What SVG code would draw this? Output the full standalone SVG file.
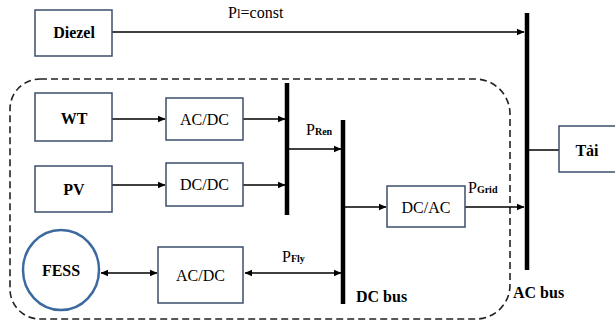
<svg xmlns="http://www.w3.org/2000/svg" width="615" height="330" viewBox="0 0 615 330" font-family="'Liberation Serif', 'DejaVu Serif', 'Times New Roman', serif">
<defs>
<marker id="ah" markerWidth="8" markerHeight="8" refX="7" refY="4" orient="auto-start-reverse" markerUnits="userSpaceOnUse">
<path d="M0,0.8 L7.5,4 L0,7.2 Z" fill="#000"/>
</marker>
<style>
.box{fill:#fff;stroke:#3b4f6b;stroke-width:1.5}
text{font-family:'Liberation Serif','DejaVu Serif','Times New Roman',serif}
.t{font-size:16px;fill:#000;text-anchor:middle}
.b{font-weight:bold}
.c{stroke:#000;stroke-width:1.5;fill:none}
.bus{stroke:#000;stroke-width:4.5}
.lbl{font-size:16px;fill:#000}
.sub{font-size:10px;font-weight:bold}
</style>
</defs>
<rect width="615" height="330" fill="#fff"/>
<path d="M40,79 H475 A35,35 0 0 1 510,114 V285 A34,34 0 0 1 476,319 H40 A30,30 0 0 1 10,289 V109 A30,30 0 0 1 40,79 Z" fill="none" stroke="#222" stroke-width="1.6" stroke-dasharray="7,4"/>
<g id="connectors">
<line class="c" x1="112" y1="32" x2="524" y2="32" marker-end="url(#ah)"/>
<line class="c" x1="112" y1="119" x2="165" y2="119" marker-end="url(#ah)"/>
<line class="c" x1="243" y1="119" x2="285" y2="119" marker-end="url(#ah)"/>
<line class="c" x1="112" y1="185" x2="165" y2="185" marker-end="url(#ah)"/>
<line class="c" x1="243" y1="185" x2="285" y2="185" marker-end="url(#ah)"/>
<line class="c" x1="287" y1="149" x2="341" y2="149" marker-end="url(#ah)"/>
<line class="c" x1="343" y1="207" x2="386" y2="207" marker-end="url(#ah)"/>
<line class="c" x1="465" y1="207" x2="524" y2="207" marker-end="url(#ah)"/>
<line class="c" x1="527" y1="150" x2="559" y2="150" stroke="#444"/>
<line class="c" x1="101" y1="273" x2="157" y2="273" marker-start="url(#ah)" marker-end="url(#ah)"/>
<line class="c" x1="245" y1="273" x2="341" y2="273" marker-start="url(#ah)" marker-end="url(#ah)"/>
</g>
<g id="ac-bus"><line class="bus" x1="527" y1="13" x2="527" y2="270"/><text class="lbl b" x="513" y="298">AC bus</text></g>
<g id="ren-bus"><line class="bus" x1="287" y1="83" x2="287" y2="215"/></g>
<g id="dc-bus"><line class="bus" x1="343" y1="120" x2="343" y2="304"/><text class="lbl b" x="356" y="302">DC bus</text></g>
<g id="diezel"><rect class="box" x="35" y="10" width="77" height="46"/><text class="t b" x="74" y="38">Diezel</text></g>
<g id="wt"><rect class="box" x="35" y="93" width="77" height="48"/><text class="t b" x="74" y="124">WT</text></g>
<g id="acdc1"><rect class="box" x="166" y="98" width="77" height="42"/><text class="t" x="204.5" y="125">AC/DC</text></g>
<g id="pv"><rect class="box" x="35" y="166" width="77" height="46"/><text class="t b" x="74" y="195">PV</text></g>
<g id="dcdc"><rect class="box" x="166" y="163" width="77" height="43"/><text class="t" x="204.5" y="190">DC/DC</text></g>
<g id="dcac"><rect class="box" x="387" y="186" width="78" height="41"/><text class="t" x="426" y="213">DC/AC</text></g>
<g id="tai"><rect class="box" x="559" y="126" width="60" height="46"/><text class="t b" x="587" y="156">Tải</text></g>
<g id="fess"><ellipse cx="61" cy="270" rx="38" ry="40" fill="#fff" stroke="#3d6a9e" stroke-width="2.5"/><text class="t b" x="61" y="276">FESS</text></g>
<g id="acdc2"><rect class="box" x="158" y="247" width="85" height="56"/><text class="t" x="200.5" y="281">AC/DC</text></g>
<text class="lbl" x="228" y="18">P<tspan font-size="13">l</tspan>=const</text>
<text class="lbl" x="306" y="135">P<tspan class="sub">Ren</tspan></text>
<text class="lbl" x="468" y="193">P<tspan class="sub">Grid</tspan></text>
<text class="lbl" x="282" y="262">P<tspan class="sub">Fly</tspan></text>
</svg>
